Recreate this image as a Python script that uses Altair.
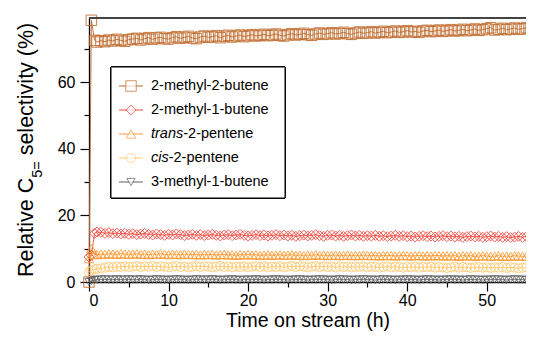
import altair as alt
import pandas as pd

# ---------------- data ----------------
SERIES = ["2-methyl-2-butene", "2-methyl-1-butene", "trans-2-pentene",
          "cis-2-pentene", "3-methyl-1-butene"]

TIME_H = [0.0, 0.3, 0.7, 1.0,
          1.5, 2.0, 2.5, 3.0, 3.5, 4.0, 4.5, 5.0,
          5.5, 6.0, 6.5, 7.0, 7.5, 8.0, 8.5, 9.0, 9.5, 10.0,
          10.5, 11.0, 11.5, 12.0, 12.5, 13.0, 13.5, 14.0, 14.5, 15.0,
          15.5, 16.0, 16.5, 17.0, 17.5, 18.0, 18.5, 19.0, 19.5, 20.0,
          20.5, 21.0, 21.5, 22.0, 22.5, 23.0, 23.5, 24.0, 24.5, 25.0,
          25.5, 26.0, 26.5, 27.0, 27.5, 28.0, 28.5, 29.0, 29.5, 30.0,
          30.5, 31.0, 31.5, 32.0, 32.5, 33.0, 33.5, 34.0, 34.5, 35.0,
          35.5, 36.0, 36.5, 37.0, 37.5, 38.0, 38.5, 39.0, 39.5, 40.0,
          40.5, 41.0, 41.5, 42.0, 42.5, 43.0, 43.5, 44.0, 44.5, 45.0,
          45.5, 46.0, 46.5, 47.0, 47.5, 48.0, 48.5, 49.0, 49.5, 50.0,
          50.5, 51.0, 51.5, 52.0, 52.5, 53.0, 53.5, 54.0, 54.5, 55.0, 55.5]

M2B2 = [0.0, 78.5, 72.5, 72.0,
        72.4, 72.1, 72.6, 72.3, 72.8, 72.5, 72.2, 72.7,
        72.9, 73.1, 72.6, 73.0, 73.3, 72.8, 73.2, 73.4, 73.0, 72.9,
        73.3, 73.6, 73.1, 73.4, 73.7, 73.2, 73.0, 73.5, 73.8, 73.4,
        73.6, 73.9, 73.3, 73.7, 74.0, 73.5, 73.8, 74.1, 73.6, 73.9,
        74.2, 73.8, 74.0, 74.3, 73.9, 74.1, 74.4, 74.0, 73.8, 74.2,
        74.5, 74.1, 74.3, 74.6, 74.2, 74.0, 74.4, 74.7, 74.3, 74.5,
        74.8, 74.4, 74.6, 74.9, 74.5, 74.3, 74.7, 75.0, 74.6, 74.8,
        75.1, 74.7, 74.9, 75.2, 74.8, 75.0, 75.3, 74.9, 75.1, 75.4,
        75.0, 75.2, 74.9, 75.3, 75.5, 75.1, 75.3, 75.6, 75.2, 75.4,
        75.7, 75.3, 75.5, 75.8, 75.4, 75.6, 75.9, 75.5, 75.7, 76.0,
        76.3, 75.6, 75.8, 76.1, 75.7, 75.9, 76.2, 75.8, 76.0, 76.3, 75.9]

M2B1 = [7.5, 8.0, 14.6, 15.0,
        14.9, 14.6, 14.8, 14.5, 14.7, 14.4, 14.6, 14.3,
        14.5, 14.2, 14.4, 14.6, 14.3, 14.1, 14.4, 14.2, 14.0, 14.3,
        14.1, 14.4, 14.2, 13.9, 14.1, 14.3, 14.0, 14.2, 13.9, 14.1,
        14.3, 14.0, 13.8, 14.1, 14.2, 13.9, 14.1, 14.3, 14.0, 13.8,
        14.0, 14.2, 13.9, 14.1, 13.8, 14.0, 14.2, 13.9, 14.1, 13.8,
        14.0, 13.7, 13.9, 14.1, 13.8, 14.0, 14.2, 13.9, 13.7, 14.0,
        14.1, 13.8, 14.0, 13.7, 13.9, 14.1, 13.8, 14.0, 13.7, 13.9,
        13.8, 14.0, 13.7, 13.9, 13.6, 13.8, 14.0, 13.7, 13.9, 13.6,
        13.8, 13.5, 13.7, 13.9, 13.6, 13.8, 13.5, 13.7, 13.9, 13.6,
        13.8, 13.5, 13.7, 13.4, 13.6, 13.8, 13.5, 13.7, 13.4, 13.6,
        13.8, 13.5, 13.7, 13.4, 13.6, 13.3, 13.5, 13.7, 13.4, 13.6, 13.5]

T2P = [7.0, 10.0, 8.3, 8.2,
       8.4, 8.3, 8.5, 8.4, 8.3, 8.5, 8.4, 8.3,
       8.4, 8.5, 8.3, 8.4, 8.2, 8.4, 8.3, 8.5, 8.3, 8.2,
       8.4, 8.3, 8.2, 8.4, 8.3, 8.2, 8.3, 8.1, 8.3, 8.2,
       8.3, 8.1, 8.2, 8.3, 8.1, 8.2, 8.0, 8.2, 8.1, 8.3,
       8.1, 8.2, 8.0, 8.1, 8.2, 8.0, 8.1, 8.2, 8.0, 8.1,
       8.2, 8.0, 8.1, 7.9, 8.1, 8.0, 8.2, 8.0, 8.1, 7.9,
       8.0, 8.1, 7.9, 8.0, 8.1, 7.9, 8.0, 7.9, 8.1, 8.0,
       7.9, 8.0, 7.8, 8.0, 7.9, 8.0, 7.8, 7.9, 8.0, 7.9,
       7.8, 7.9, 8.0, 7.8, 7.9, 7.8, 8.0, 7.9, 7.8, 7.9,
       7.8, 7.9, 7.7, 7.9, 7.8, 7.9, 7.7, 7.8, 7.9, 7.8,
       7.7, 7.8, 7.9, 7.7, 7.8, 7.7, 7.9, 7.8, 7.7, 7.8, 7.7]

C2P = [3.0, 3.5, 3.8, 4.0,
       4.1, 4.3, 4.5, 4.4, 4.6, 4.5, 4.7, 4.5,
       4.6, 4.8, 4.5, 4.7, 4.6, 4.8, 4.5, 4.7, 4.6, 4.4,
       4.6, 4.8, 4.5, 4.7, 4.4, 4.6, 4.8, 4.5, 4.7, 4.6,
       4.4, 4.6, 4.8, 4.5, 4.7, 4.4, 4.6, 4.5, 4.7, 4.4,
       4.6, 4.8, 4.5, 4.7, 4.4, 4.6, 4.5, 4.7, 4.4, 4.6,
       4.8, 4.5, 4.7, 4.6, 4.4, 4.6, 4.8, 4.5, 4.7, 4.5,
       4.6, 4.4, 4.7, 4.5, 4.6, 4.4, 4.6, 4.5, 4.7, 4.4,
       4.6, 4.5, 4.3, 4.5, 4.7, 4.4, 4.6, 4.5, 4.3, 4.5,
       4.4, 4.6, 4.3, 4.5, 4.4, 4.6, 4.3, 4.5, 4.4, 4.2,
       4.4, 4.6, 4.3, 4.5, 4.4, 4.2, 4.4, 4.5, 4.3, 4.4,
       4.2, 4.4, 4.3, 4.5, 4.2, 4.4, 4.3, 4.1, 4.3, 4.4, 4.2]

M3B1 = [0.0, 0.3, 0.6, 0.7,
        0.7, 0.8, 0.7, 0.7, 0.8, 0.7, 0.7, 0.8,
        0.7, 0.7, 0.8, 0.7, 0.6, 0.7, 0.8, 0.7, 0.7, 0.6,
        0.7, 0.8, 0.7, 0.7, 0.6, 0.7, 0.8, 0.7, 0.7, 0.7,
        0.8, 0.7, 0.6, 0.7, 0.7, 0.8, 0.7, 0.6, 0.7, 0.7,
        0.7, 0.8, 0.7, 0.6, 0.7, 0.7, 0.8, 0.7, 0.7, 0.6,
        0.7, 0.7, 0.8, 0.7, 0.6, 0.7, 0.7, 0.8, 0.7, 0.7,
        0.6, 0.7, 0.8, 0.7, 0.7, 0.6, 0.7, 0.7, 0.8, 0.7,
        0.7, 0.6, 0.7, 0.8, 0.7, 0.7, 0.6, 0.7, 0.7, 0.8,
        0.7, 0.7, 0.6, 0.7, 0.8, 0.7, 0.7, 0.6, 0.7, 0.7,
        0.8, 0.7, 0.7, 0.6, 0.7, 0.8, 0.7, 0.7, 0.6, 0.7,
        0.7, 0.8, 0.7, 0.7, 0.6, 0.7, 0.8, 0.7, 0.7, 0.6, 0.7]

X_MAJOR = [0, 10, 20, 30, 40, 50]
X_MINOR = [5, 15, 25, 35, 45, 55]
Y_MAJOR = [0, 20, 40, 60]
Y_MINOR = [10, 30, 50, 70]

# ---------------- styles ----------------
COLORS = ["#C0692A", "#F5463C", "#FF9A30", "#FFC96E", "#606060"]
SHAPES = ["square", "diamond", "triangle-up", "circle", "triangle-down"]
SIZES = [110, 70, 75, 80, 45]
LEG_SIZES = [120, 75, 85, 95, 55]
FONT = "Liberation Sans"

W, H = 437, 264
X_DOM = [0, 54.94]
Y_DOM = [0, 79.2]

rows = []
for name, vals in zip(SERIES, [M2B2, M2B1, T2P, C2P, M3B1]):
    for t, v in zip(TIME_H, vals):
        rows.append({"series": name, "t": t, "v": v})
df = pd.DataFrame(rows)

xs = alt.Scale(domain=X_DOM, nice=False, zero=False)
ys = alt.Scale(domain=Y_DOM, nice=False, zero=False)
col = alt.Color("series:N", scale=alt.Scale(domain=SERIES, range=COLORS), legend=None)

base = alt.Chart(df)

lines = base.mark_line(strokeWidth=1, opacity=0.9).encode(
    x=alt.X("t:Q", scale=xs, axis=alt.Axis(values=X_MAJOR, tickSize=9, orient="bottom",
                                           title="Time on stream (h)", titlePadding=3,
                                           titleFontSize=19.5, titleFont=FONT,
                                           titleFontWeight="normal", titleColor="#000",
                                           labelPadding=1, format="d")),
    y=alt.Y("v:Q", scale=ys, axis=alt.Axis(values=Y_MAJOR, tickSize=9, orient="left",
                                           title=None, labelPadding=5, format="d")),
    color=col,
    detail="series:N",
)

minor = base.mark_point(opacity=0).encode(
    x=alt.X("t:Q", scale=xs, axis=alt.Axis(values=X_MINOR, tickSize=5, labels=False,
                                           domain=False, orient="bottom", title=None)),
    y=alt.Y("v:Q", scale=ys, axis=alt.Axis(values=Y_MINOR, tickSize=5, labels=False,
                                           domain=False, orient="left", title=None)),
)

points = base.mark_point(filled=False, strokeWidth=1, opacity=0.85).encode(
    x=alt.X("t:Q", scale=xs, axis=None),
    y=alt.Y("v:Q", scale=ys, axis=None),
    color=col,
    shape=alt.Shape("series:N", scale=alt.Scale(domain=SERIES, range=SHAPES), legend=None),
    size=alt.Size("series:N", scale=alt.Scale(domain=SERIES, range=SIZES), legend=None),
)

top_rule = alt.Chart(df).mark_rule(color="#444", strokeWidth=2).encode(
    x=alt.value(0), x2=alt.value(W), y=alt.value(0))

# ---------------- legend (built by hand for the italic prefixes) ----------------
LEG_X0, LEG_X1, LEG_Y0, LEG_Y1 = 22, 196, 49, 180
ROW0, ROWSTEP = 68, 24
leg = pd.DataFrame({
    "series": SERIES,
    "ly": [ROW0 + i * ROWSTEP for i in range(len(SERIES))],
})
box = alt.Chart(leg).mark_rect(fill="white", stroke="#000", strokeWidth=1).encode(
    x=alt.value(LEG_X0), x2=alt.value(LEG_X1), y=alt.value(LEG_Y0), y2=alt.value(LEG_Y1))
ly = alt.Y("ly:Q", scale=None, axis=None)
leg_lines = alt.Chart(leg).mark_rule(strokeWidth=1).encode(
    x=alt.value(30), x2=alt.value(54), y=ly, color=col)
leg_pts = alt.Chart(leg).mark_point(filled=True, fill="white", strokeWidth=1).encode(
    x=alt.value(42), y=ly,
    stroke=alt.Stroke("series:N", scale=alt.Scale(domain=SERIES, range=COLORS), legend=None),
    shape=alt.Shape("series:N", scale=alt.Scale(domain=SERIES, range=SHAPES), legend=None),
    size=alt.Size("series:N", scale=alt.Scale(domain=SERIES, range=LEG_SIZES), legend=None),
)
TX = 62
FS = 14.5
W_TRANS = 2.223 * FS
W_CIS = 1.222 * FS
plain_txt = pd.DataFrame({
    "txt": ["2-methyl-2-butene", "2-methyl-1-butene", "-2-pentene", "-2-pentene", "3-methyl-1-butene"],
    "ly": [ROW0 + i * ROWSTEP for i in range(5)],
    "dx": [0, 0, W_TRANS, W_CIS, 0],
})
ital_txt = pd.DataFrame({"txt": ["trans", "cis"], "ly": [ROW0 + 2 * ROWSTEP, ROW0 + 3 * ROWSTEP]})
leg_plain = alt.Chart(plain_txt).transform_calculate(px=f"{TX} + datum.dx").mark_text(
    align="left", baseline="middle", font=FONT, fontSize=FS, color="#000").encode(
    x=alt.X("px:Q", scale=None, axis=None), y=ly, text="txt:N")
leg_ital = alt.Chart(ital_txt).mark_text(
    align="left", baseline="middle", font=FONT, fontSize=FS, fontStyle="italic", color="#000").encode(
    x=alt.value(TX), y=ly, text="txt:N")

# ---------------- y title with subscript ----------------
YT_FS = 21.5
SUB_FS = 14.5
YT_BASE = -56
YT_START = 259
w1 = 4.612 * YT_FS
w2 = 1.14 * SUB_FS + 0.278 * YT_FS
ytitle = pd.DataFrame({
    "txt": ["Relative C", "5=", "selectivity (%)"],
    "px": [YT_BASE, YT_BASE + 8.5, YT_BASE],
    "py": [YT_START, YT_START - w1, YT_START - w1 - w2],
    "fs": [YT_FS, SUB_FS, YT_FS],
})
yt_main = alt.Chart(ytitle).transform_filter("datum.fs > 16").mark_text(
    align="left", baseline="alphabetic", angle=270, font=FONT, fontSize=YT_FS, color="#000").encode(
    x=alt.X("px:Q", scale=None, axis=None), y=alt.Y("py:Q", scale=None, axis=None), text="txt:N")
yt_sub = alt.Chart(ytitle).transform_filter("datum.fs < 16").mark_text(
    align="left", baseline="alphabetic", angle=270, font=FONT, fontSize=SUB_FS, color="#000").encode(
    x=alt.X("px:Q", scale=None, axis=None), y=alt.Y("py:Q", scale=None, axis=None), text="txt:N")

chart = alt.layer(
    lines, minor, points, top_rule, box, leg_lines, leg_pts, leg_plain, leg_ital, yt_main, yt_sub
).resolve_axis(x="independent", y="independent").properties(
    width=W, height=H, autosize="none",
    padding={"left": 81, "top": 10, "right": 0, "bottom": 49},
).configure_view(stroke=None).configure_axis(
    grid=False, labelFont=FONT, labelFontSize=16, labelColor="#000",
    tickColor="#000", domainColor="#000", tickWidth=1.2, domainWidth=1.3,
)

chart.save("out.html", embed_options={"renderer": "svg", "actions": False})
